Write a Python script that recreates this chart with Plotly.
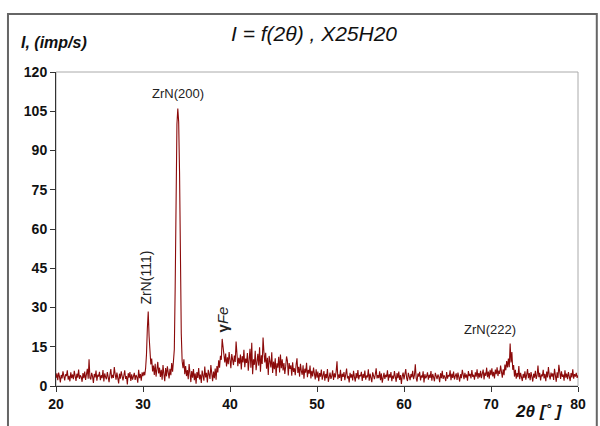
import numpy as np
import plotly.graph_objects as go

# 2theta grid (degrees), step 0.1 from 20 to 80
two_theta = [round(20 + 0.1 * i, 1) for i in range(601)]

intensity = [
    3.1, 4.8, 2.2, 5.1, 3.6, 1.4, 4.2, 2.9, 5.6, 3.3,
    2.1, 4.5, 3.8, 6.0, 2.4, 3.9, 1.8, 5.2, 3.0, 4.4,
    2.6, 5.8, 3.4, 1.9, 4.7, 3.2, 6.3, 2.7, 4.1, 3.5,
    1.6, 4.9, 3.0, 5.5, 2.3, 4.0, 6.6, 2.8, 10.2, 3.1,
    2.5, 5.0, 3.7, 1.2, 4.6, 3.3, 5.9, 2.0, 4.3, 3.6,
    5.4, 2.2, 4.1, 3.0, 6.1, 1.7, 4.8, 3.4, 2.6, 5.3,
    3.9, 1.5, 4.4, 6.5, 2.9, 4.2, 3.1, 7.2, 4.6, 2.4,
    5.1, 3.3, 1.0, 4.7, 2.8, 5.6, 3.5, 2.1, 4.0, 6.0,
    2.7, 3.8, 0.6, 4.9, 3.2, 5.3, 1.9, 4.5, 2.4, 3.7,
    5.0, 2.3, 4.2, 3.4, 1.3, 6.2, 3.0, 4.6, 2.0, 5.2,
    3.8, 5.4, 4.1, 6.8, 12.0, 22.0, 28.5, 19.0, 10.5, 8.2,
    10.5, 5.6, 7.8, 4.2, 8.5, 3.6, 6.4, 9.2, 4.8, 7.0,
    3.5, 6.2, 2.4, 8.0, 4.6, 1.8, 6.9, 3.7, 7.5, 5.0,
    2.9, 6.6, 4.1, 8.8, 5.5, 9.5, 14.0, 38.0, 78.0, 100.0,
    106.0, 101.0, 82.0, 48.0, 20.0, 9.5, 6.8, 10.2, 4.5, 7.6,
    3.8, 6.1, 2.6, 8.4, 4.0, 1.5, 5.7, 3.2, 6.5, 2.2,
    4.8, 0.9, 5.3, 3.1, 6.9, 2.5, 4.4, 1.2, 5.9, 3.6,
    2.0, 7.4, 3.3, 5.0, 1.4, 6.2, 3.9, 2.7, 8.0, 4.3,
    1.8, 5.5, 3.0, 6.7, 2.4, 7.6, 5.2, 9.8, 7.0, 11.5,
    10.0, 18.0, 14.5, 13.2, 9.0, 12.4, 7.5, 11.0, 8.3, 13.0,
    9.4, 6.8, 12.2, 10.1, 8.0, 11.6, 9.2, 17.0, 13.4, 7.6,
    10.8, 8.5, 12.0, 6.3, 11.4, 9.0, 13.8, 7.2, 10.5, 8.8,
    12.6, 5.8, 9.9, 14.2, 7.0, 16.5, 4.5, 10.2, 8.1, 13.5,
    6.0, 9.6, 12.3, 7.8, 14.8, 5.5, 11.7, 8.4, 18.5, 13.0,
    9.0, 12.7, 6.6, 10.8, 4.2, 11.5, 8.0, 7.1, 12.9, 5.0,
    9.3, 6.4, 10.6, 3.8, 8.7, 7.0, 11.2, 5.2, 12.0, 6.8,
    10.2, 5.9, 8.8, 4.6, 7.5, 11.3, 9.6, 4.0, 8.8, 6.5,
    7.9, 3.9, 9.1, 5.4, 6.8, 4.1, 8.2, 10.6, 5.0, 7.3,
    3.6, 8.5, 5.7, 4.3, 7.9, 2.8, 6.6, 5.1, 8.9, 3.4,
    6.2, 4.7, 7.8, 2.9, 5.8, 3.7, 7.0, 4.5, 2.5, 6.4,
    3.2, 5.5, 1.8, 4.9, 3.6, 6.3, 2.4, 4.1, 5.7, 2.0,
    4.6, 3.0, 6.5, 1.6, 4.2, 5.1, 2.7, 3.8, 6.0, 2.3,
    4.8, 3.3, 5.6, 9.4, 2.6, 4.4, 3.1, 6.2, 1.9, 4.7,
    3.5, 5.3, 2.2, 4.0, 6.7, 2.9, 3.8, 1.4, 5.0, 3.2,
    4.5, 2.1, 5.8, 3.4, 1.7, 4.9, 3.0, 6.1, 2.5, 4.2,
    3.7, 5.4, 1.9, 4.6, 3.1, 5.9, 2.4, 4.0, 3.3, 6.4,
    2.0, 4.7, 3.5, 1.5, 5.2, 3.8, 2.6, 4.4, 6.8, 2.9,
    4.1, 3.0, 5.6, 2.2, 4.8, 1.3, 3.9, 5.0, 2.7, 4.3,
    3.4, 6.0, 2.0, 4.5, 3.2, 5.3, 1.8, 4.0, 2.8, 5.7,
    3.6, 1.6, 4.9, 3.0, 5.5, 2.3, 4.2, 0.8, 3.8, 5.1,
    2.5, 4.4, 6.5, 3.1, 1.9, 5.0, 3.5, 2.2, 4.6, 3.3,
    5.8, 2.6, 4.1, 8.3, 3.0, 1.7, 4.8, 3.6, 5.4, 2.1,
    4.0, 3.2, 5.6, 1.4, 4.5, 2.9, 3.7, 5.2, 2.4, 4.3,
    3.1, 5.7, 2.0, 4.6, 3.4, 1.8, 5.0, 3.9, 2.6, 4.4,
    3.5, 1.5, 4.9, 3.0, 5.8, 2.7, 4.1, 3.3, 1.9, 5.3,
    2.8, 4.2, 3.6, 6.0, 2.2, 4.7, 3.1, 5.5, 2.5, 3.9,
    4.8, 2.3, 5.1, 3.4, 1.7, 4.5, 3.0, 6.2, 3.7, 2.6,
    5.0, 3.2, 4.4, 2.0, 5.7, 3.8, 4.6, 2.9, 6.1, 3.5,
    4.3, 2.4, 5.2, 3.6, 6.4, 2.8, 4.9, 3.3, 5.8, 3.0,
    4.7, 6.3, 2.5, 5.1, 3.9, 7.0, 3.4, 5.5, 2.8, 6.2,
    4.1, 6.8, 3.7, 5.4, 2.9, 6.3, 4.5, 7.1, 3.8, 5.9,
    4.6, 7.8, 5.5, 3.2, 6.4, 4.1, 8.2, 6.0, 9.5, 7.1,
    10.5, 7.2, 16.2, 9.0, 13.0, 6.2, 8.0, 3.6, 6.2, 2.8,
    4.9, 3.4, 7.6, 2.6, 5.0, 3.8, 1.9, 4.6, 3.1, 5.6,
    2.4, 4.3, 6.5, 3.0, 4.9, 2.2, 5.3, 3.6, 1.7, 4.7,
    3.2, 5.8, 2.7, 4.1, 7.8, 3.4, 5.0, 2.1, 4.4, 3.7,
    6.2, 2.9, 4.6, 1.8, 5.5, 3.3, 7.2, 4.0, 2.5, 5.1,
    3.6, 4.8, 2.3, 6.6, 3.9, 1.6, 5.2, 3.1, 8.1, 4.2,
    2.7, 5.6, 3.5, 4.4, 2.0, 6.0, 3.2, 4.7, 2.6, 5.3,
    3.8, 1.9, 4.9, 3.3, 6.4, 2.8, 4.5, 3.6, 5.0, 3.1,
    4.0,
]

y_ticks = [0, 15, 30, 45, 60, 75, 90, 105, 120]
x_ticks = [20, 30, 40, 50, 60, 70, 80]

peak_labels = ["ZrN(200)", "ZrN(111)", "γFe", "ZrN(222)"]
peak_pos = [34.0, 30.5, 39.1, 71.8]

fig = go.Figure()
fig.add_trace(go.Scatter(
    x=two_theta, y=intensity, mode="lines",
    line=dict(color="#8b0a0a", width=1.1),
    showlegend=False, hoverinfo="skip",
))

tick_font = dict(family="Liberation Sans, Arial", size=14, color="#111", weight="bold")

fig.update_layout(
    width=600, height=426,
    margin=dict(l=56, r=22, t=72, b=40),
    paper_bgcolor="white", plot_bgcolor="white",
    xaxis=dict(range=[20, 80], tickvals=x_ticks, ticks="outside", ticklen=5,
               tickcolor="#333", showline=True, linecolor="#333", linewidth=1,
               showgrid=False, zeroline=False, tickfont=tick_font),
    yaxis=dict(range=[0, 120], tickvals=y_ticks, ticks="outside", ticklen=5,
               tickcolor="#333", showline=True, linecolor="#333", linewidth=1,
               showgrid=False, zeroline=False, tickfont=tick_font),
    font=dict(family="Liberation Sans, Arial"),
)

# plot box (light top/right lines)
fig.add_shape(type="rect", xref="paper", yref="paper", x0=0, x1=1, y0=0, y1=1,
              line=dict(color="#aaa", width=1), layer="below")
# outer frame
fig.add_shape(type="rect", xref="paper", yref="paper", x0=-0.092, x1=1.036,
              y0=-0.16, y1=1.185, line=dict(color="#666", width=2))

ann_font = dict(family="Liberation Sans, Arial", size=13, color="#222")
fig.add_annotation(x=peak_pos[0], y=106, xref="x", yref="y", text=peak_labels[0],
                   showarrow=False, yanchor="bottom", yshift=6, font=ann_font)
fig.add_annotation(x=peak_pos[1] - 0.1, y=29, xref="x", yref="y", text=peak_labels[1],
                   showarrow=False, textangle=-90, yanchor="bottom", yshift=4,
                   font=dict(family="Liberation Sans, Arial", size=14, color="#222"))
fig.add_annotation(x=peak_pos[2], y=19, xref="x", yref="y",
                   text="<b>γ</b><i>Fe</i>",
                   showarrow=False, textangle=-90, yanchor="bottom", yshift=2,
                   font=dict(family="Liberation Sans, Arial", size=15, color="#222"))
fig.add_annotation(x=peak_pos[3] - 1.9, y=16.5, xref="x", yref="y", text=peak_labels[3],
                   showarrow=False, yanchor="bottom", yshift=4, font=ann_font)

# axis titles and chart title
fig.add_annotation(x=-0.07, y=1.06, xref="paper", yref="paper",
                   text="<b><i>I, (imp/s)</i></b>", showarrow=False,
                   xanchor="left", yanchor="bottom",
                   font=dict(family="Liberation Sans, Arial", size=16, color="#111"))
fig.add_annotation(x=0.495, y=1.08, xref="paper", yref="paper",
                   text="<i>I = f(2θ) , X25H20</i>", showarrow=False,
                   xanchor="center", yanchor="bottom",
                   font=dict(family="Liberation Sans, Arial", size=21, color="#111"))
fig.add_annotation(x=0.975, y=-0.045, xref="paper", yref="paper",
                   text="<b><i>2θ [˚ ]</i></b>", showarrow=False,
                   xanchor="right", yanchor="top",
                   font=dict(family="Liberation Sans, Arial", size=17, color="#111"))

fig.write_html("out.html", config={"displayModeBar": False},
               post_script="document.body.style.margin='0';document.body.style.overflow='hidden';")
